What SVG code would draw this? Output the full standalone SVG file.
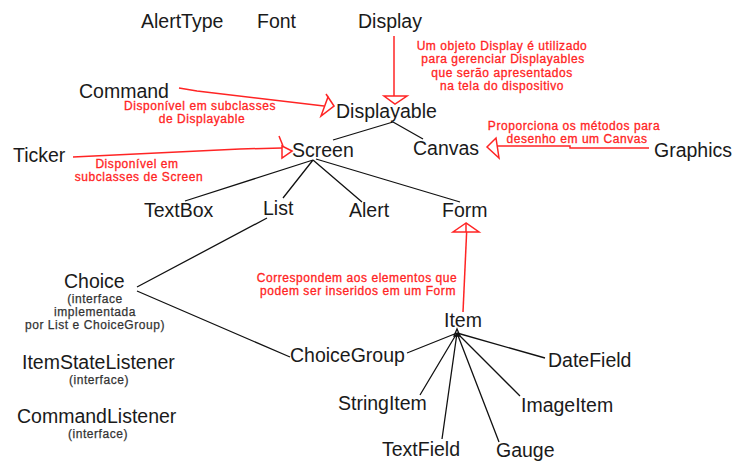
<svg xmlns="http://www.w3.org/2000/svg" width="735" height="462" viewBox="0 0 735 462">
<style>
.n{font-family:"Liberation Sans",Arial,sans-serif;font-size:19.5px;fill:#1a1a1a}
.s{font-family:"Liberation Sans",Arial,sans-serif;font-size:12px;letter-spacing:0.55px;fill:#333;text-anchor:middle;stroke:#333;stroke-width:0.25}
.r{font-family:"Liberation Sans",Arial,sans-serif;font-size:12px;letter-spacing:0.55px;fill:#ff2424;text-anchor:middle;stroke:#ff2424;stroke-width:0.3}
.k{stroke:#111;stroke-width:1.3;fill:none}
.rl{stroke:#ff2424;stroke-width:1.5;fill:none}
.ra{stroke:#ff2424;stroke-width:1.5;fill:#fff}
</style>
<rect width="735" height="462" fill="#fff"/>
<g id="connectors">
<path class="k" d="M393 122L333 140M393 122L423 139"/>
<path class="k" d="M313 160L185 201M313 160L283 198M313 160L362 202M316 159L460 202"/>
<path class="k" d="M137 287L267 218M137 291L290 357"/>
<path class="k" d="M457 333L407 353M457 333L420 395M457 333L442 439M457 333L499 442M457 333L520 396M457 333L545 358"/>
<path class="k" d="M454 336L457 329L460 336Z" stroke-width="1"/>
<path class="rl" d="M394 36V97"/>
<path class="ra" d="M384 96H407L395 104Z"/>
<path class="rl" d="M179 88L197 91L324 106"/>
<path class="ra" d="M334 106L328 97L321 116Z"/>
<path class="rl" d="M328 97L326 94"/>
<path class="rl" d="M73 157L240 149L282 148"/>
<path class="ra" d="M292 151L282 146L282 158Z"/>
<path class="rl" d="M279 136L283 146"/>
<path class="rl" d="M649 148H570V146H497"/>
<path class="ra" d="M487 147L496 138L499 158Z"/>
<path class="rl" d="M467 224L463 312"/>
<path class="ra" d="M466 223L453 232H479Z"/>
<path class="rl" d="M466 224V232"/>
</g>
<g id="AlertType"><text class="n" x="141" y="28">AlertType</text></g>
<g id="Font"><text class="n" x="257" y="28">Font</text></g>
<g id="Display"><text class="n" x="358" y="28">Display</text></g>
<g id="Displayable"><text class="n" x="336" y="118">Displayable</text></g>
<g id="Command"><text class="n" x="79" y="98">Command</text></g>
<g id="Ticker"><text class="n" x="13" y="162">Ticker</text></g>
<g id="Screen"><text class="n" x="292" y="157">Screen</text></g>
<g id="Canvas"><text class="n" x="413" y="155">Canvas</text></g>
<g id="Graphics"><text class="n" x="654" y="157">Graphics</text></g>
<g id="TextBox"><text class="n" x="144" y="217">TextBox</text></g>
<g id="List"><text class="n" x="263" y="215">List</text></g>
<g id="Alert"><text class="n" x="349" y="217">Alert</text></g>
<g id="Form"><text class="n" x="442" y="217">Form</text></g>
<g id="Choice"><text class="n" x="64" y="288">Choice</text>
<text class="s" x="95" y="303">(interface</text>
<text class="s" x="95" y="316">implementada</text>
<text class="s" x="95" y="329">por List e ChoiceGroup)</text></g>
<g id="ItemStateListener"><text class="n" x="22" y="369">ItemStateListener</text>
<text class="s" x="99" y="384">(interface)</text></g>
<g id="CommandListener"><text class="n" x="17" y="423">CommandListener</text>
<text class="s" x="98" y="438">(interface)</text></g>
<g id="Item"><text class="n" x="444" y="327">Item</text></g>
<g id="ChoiceGroup"><text class="n" x="290" y="362">ChoiceGroup</text></g>
<g id="DateField"><text class="n" x="548" y="367">DateField</text></g>
<g id="StringItem"><text class="n" x="338" y="410">StringItem</text></g>
<g id="ImageItem"><text class="n" x="521" y="412">ImageItem</text></g>
<g id="TextField"><text class="n" x="382" y="456">TextField</text></g>
<g id="Gauge"><text class="n" x="496" y="457">Gauge</text></g>
<g id="notes">
<text class="r" x="502" y="50">Um objeto Display é utilizado</text>
<text class="r" x="503" y="63">para gerenciar Displayables</text>
<text class="r" x="502" y="77">que serão apresentados</text>
<text class="r" x="502" y="90">na tela do dispositivo</text>
<text class="r" x="200" y="110">Disponível em subclasses</text>
<text class="r" x="202" y="123">de Displayable</text>
<text class="r" x="137" y="168">Disponível em</text>
<text class="r" x="139" y="181">subclasses de Screen</text>
<text class="r" x="574" y="130">Proporciona os métodos para</text>
<text class="r" x="577" y="143">desenho em um Canvas</text>
<text class="r" x="357" y="282">Correspondem aos elementos que</text>
<text class="r" x="358" y="295">podem ser inseridos em um Form</text>
</g>
</svg>
